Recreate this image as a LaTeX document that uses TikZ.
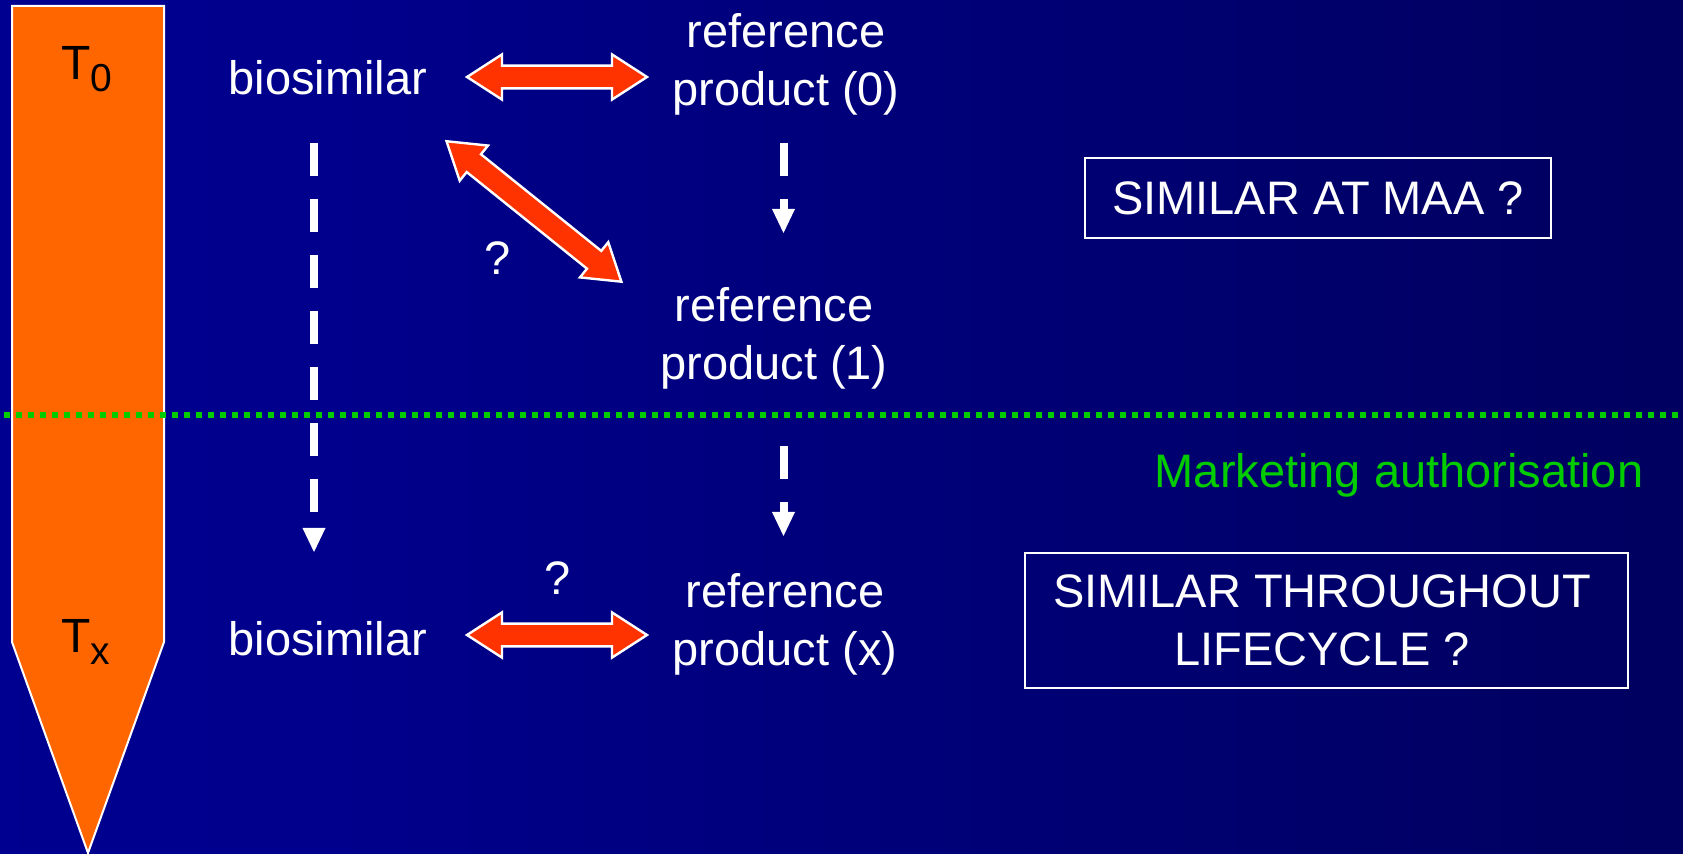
\documentclass[tikz,border=0pt]{standalone}
\usepackage{fontspec}
\setmainfont{Liberation Sans}
\usetikzlibrary{arrows.meta}

\definecolor{bgL}{RGB}{0,0,153}
\definecolor{bgM}{RGB}{0,0,140}
\definecolor{bgN}{RGB}{0,0,100}
\definecolor{bgR}{RGB}{0,0,76}
\definecolor{barorange}{RGB}{255,102,0}
\definecolor{arrowred}{RGB}{255,51,0}
\definecolor{mkgreen}{RGB}{0,204,0}

\pgfdeclarehorizontalshading{bgshade}{100bp}{color(0bp)=(bgL); color(35bp)=(bgM); color(70bp)=(bgN); color(100bp)=(bgR)}

% two centred lines whose anchor "base" is the baseline of the first line
\newcommand\twolines[2]{\begin{tabular}[t]{@{}c@{}}#1\\#2\end{tabular}}

% broad double-headed arrow between two named coordinates
\newcommand\fatarrow[2]{%
  \pgfmathanglebetweenpoints{\pgfpointanchor{#1}{center}}{\pgfpointanchor{#2}{center}}%
  \let\fatang\pgfmathresult
  \pgfpointdiff{\pgfpointanchor{#1}{center}}{\pgfpointanchor{#2}{center}}%
  \pgfgetlastxy{\fatdx}{\fatdy}%
  \pgfmathsetmacro\fatlen{veclen(\fatdx,\fatdy)}%
  \pgfmathsetmacro\fatback{\fatlen-18.5}%
  \begin{scope}[shift={(#1)}, rotate=\fatang]
    \draw[fatarrowstyle] (1pt,0pt) -- (18.5pt,11.3pt) -- (18.5pt,5.7pt)
      -- (\fatback pt,5.7pt) -- (\fatback pt,11.3pt) -- (\fatlen pt-1pt,0pt)
      -- (\fatback pt,-11.3pt) -- (\fatback pt,-5.7pt) -- (18.5pt,-5.7pt)
      -- (18.5pt,-11.3pt) -- cycle;
  \end{scope}%
}

\tikzset{
  lbl/.style={text=white, font=\fontsize{23.5}{29}\selectfont, inner sep=0pt},
  tlbl/.style={text=black, font=\fontsize{24}{29}\selectfont, inner sep=0pt, anchor=base west},
  framebox/.style={draw=white, line width=1pt, inner sep=0pt, text=white,
    font=\fontsize{23.5}{29}\selectfont},
  timebar/.style={fill=barorange, draw=white, line width=1pt, line join=miter},
  fatarrowstyle/.style={fill=arrowred, draw=white, line width=1.2pt, line join=miter},
  dasharrow/.style={white, line width=4pt, dash pattern=on 16.5pt off 11.5pt,
    -{Triangle[length=12pt, width=11.5pt, line width=0pt]}},
  greendots/.style={mkgreen, line width=3pt, dash pattern=on 3pt off 3pt}
}

\begin{document}
\begin{tikzpicture}[x=0.5pt, y=-0.5pt]
  \useasboundingbox (0,0) rectangle (1683,854);
  \shade[shading=bgshade] (0,0) rectangle (1683,854);

  % time axis
  \draw[timebar] (12,6) -- (164,6) -- (164,642) -- (88,853) -- (12,642) -- cycle;
  \node[tlbl] (T0) at (61,80) {T\raisebox{-6pt}{\fontsize{19.5}{20}\selectfont 0}};
  \node[tlbl] (Tx) at (61,653) {T\raisebox{-6pt}{\fontsize{19.5}{20}\selectfont x}};

  % products
  \node[lbl, anchor=base] (bioA) at (328,95) {biosimilar};
  \node[lbl, anchor=base] (bioX) at (328,656) {biosimilar};
  \node[lbl, anchor=base] (refA) at (786,48) {\twolines{reference}{product (0)}};
  \node[lbl, anchor=base] (refB) at (774,322) {\twolines{reference}{product (1)}};
  \node[lbl, anchor=base] (refX) at (785,608) {\twolines{reference}{product (x)}};

  \node[lbl, anchor=base] (q1) at (498,275) {?};
  \node[lbl, anchor=base] (q2) at (558,595) {?};

  % questions on the right
  \node[framebox, minimum width=233pt, minimum height=40pt] (maa) at (1318,198) {SIMILAR AT MAA ?};
  \node[framebox, minimum width=301.5pt, minimum height=67.5pt] (lcbox) at (1326.5,620.5) {};
  \node[lbl, anchor=base] (lctext) at (1322,608) {\twolines{SIMILAR THROUGHOUT}{LIFECYCLE ?}};

  % marketing authorisation line
  \coordinate (gl) at (4,415);
  \coordinate (gr) at (1683,415);
  \draw[greendots] (gl) -- (gr);
  \node[lbl, text=mkgreen, anchor=base] (mkt) at (1399,488) {Marketing authorisation};

  % time progression
  \coordinate (dl1) at (314,143);
  \coordinate (dl2) at (314,552);
  \coordinate (dr1) at (783.5,143);
  \coordinate (dr2) at (783.5,233);
  \coordinate (dr3) at (783.5,446);
  \coordinate (dr4) at (783.5,536);
  \draw[dasharrow] (dl1) -- (dl2);
  \draw[dasharrow] (dr1) -- (dr2);
  \draw[dasharrow] (dr3) -- (dr4);

  % comparisons
  \coordinate (ha1) at (465,77);
  \coordinate (ha2) at (649,77);
  \coordinate (hd1) at (445,140);
  \coordinate (hd2) at (623,283);
  \coordinate (hx1) at (465,635);
  \coordinate (hx2) at (649,635);
  \fatarrow{ha1}{ha2}
  \fatarrow{hd1}{hd2}
  \fatarrow{hx1}{hx2}
\end{tikzpicture}
\end{document}
